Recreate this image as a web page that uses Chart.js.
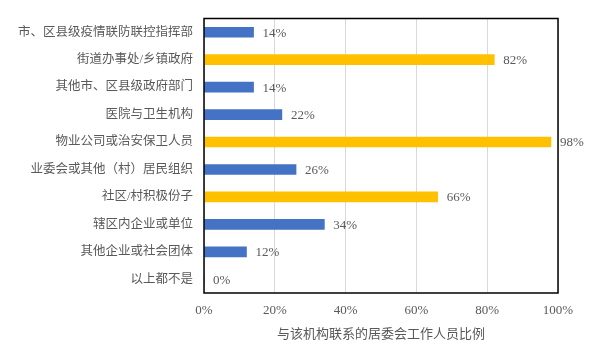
<!DOCTYPE html>
<html><head><meta charset="utf-8">
<script src="https://cdn.jsdelivr.net/npm/chart.js@4/dist/chart.umd.min.js"></script>
<style>html,body{margin:0;padding:0;background:#fff}#c{display:block}</style>
</head><body>
<div style="width:609px;height:355px"><canvas id="c" width="609" height="355"></canvas></div>
<script>
const categories = ["市、区县级疫情联防联控指挥部","街道办事处/乡镇政府","其他市、区县级政府部门","医院与卫生机构","物业公司或治安保卫人员","业委会或其他（村）居民组织","社区/村积极份子","辖区内企业或单位","其他企业或社会团体","以上都不是"];
const values = [14, 82, 14, 22, 98, 26, 66, 34, 12, 0];
const highlighted = [false, true, false, false, true, false, true, false, false, false];
const xTicks = [0, 20, 40, 60, 80, 100];
const xTitle = "与该机构联系的居委会工作人员比例";

const FONT = '"Liberation Serif", "Noto Sans CJK SC", serif';
const TXT = '#595959';

const labelPlugin = {
  id: 'labels',
  afterDatasetsDraw(chart) {
    const ctx = chart.ctx;
    const meta = chart.getDatasetMeta(0);
    ctx.save();
    ctx.font = '13px ' + FONT;
    ctx.fillStyle = TXT;
    ctx.textBaseline = 'middle';
    ctx.textAlign = 'left';
    meta.data.forEach((bar, i) => {
      ctx.fillText(values[i] + '%', bar.x + 9, bar.y + 1);
    });
    ctx.restore();
  },
  afterDraw(chart) {
    const a = chart.chartArea, ctx = chart.ctx;
    ctx.save();
    ctx.strokeStyle = '#000';
    ctx.lineWidth = 1.5;
    ctx.strokeRect(a.left, a.top, a.right - a.left, a.bottom - a.top);
    ctx.restore();
  }
};

new Chart(document.getElementById('c'), {
  type: 'bar',
  data: {
    labels: categories,
    datasets: [{
      data: values,
      backgroundColor: values.map((v, i) => highlighted[i] ? '#FFC000' : '#4472C4'),
      barThickness: 10,
      borderWidth: 0
    }]
  },
  options: {
    indexAxis: 'y',
    responsive: false,
    animation: false,
    layout: { padding: { left: 0, top: 17, right: 51, bottom: 13 } },
    plugins: { legend: { display: false }, tooltip: { enabled: false } },
    scales: {
      x: {
        min: 0, max: 100,
        afterBuildTicks(s) { s.ticks = xTicks.map(v => ({ value: v })); },
        afterFit(s) { s.height = 49; },
        grid: { color: '#d9d9d9', lineWidth: 1, drawTicks: false },
        border: { display: false },
        ticks: { color: TXT, font: { family: FONT, size: 13 }, padding: 10, maxRotation: 0, callback: v => v + '%' },
        title: { display: true, text: xTitle, color: TXT, font: { family: FONT, size: 13 }, padding: { top: 6, bottom: 0 } }
      },
      y: {
        afterFit(s) { s.width = 204; },
        grid: { display: false, drawTicks: false },
        border: { display: false },
        ticks: { color: TXT, font: { family: FONT, size: 12.5 }, padding: 11, autoSkip: false }
      }
    }
  },
  plugins: [labelPlugin]
});
</script>
</body></html>
